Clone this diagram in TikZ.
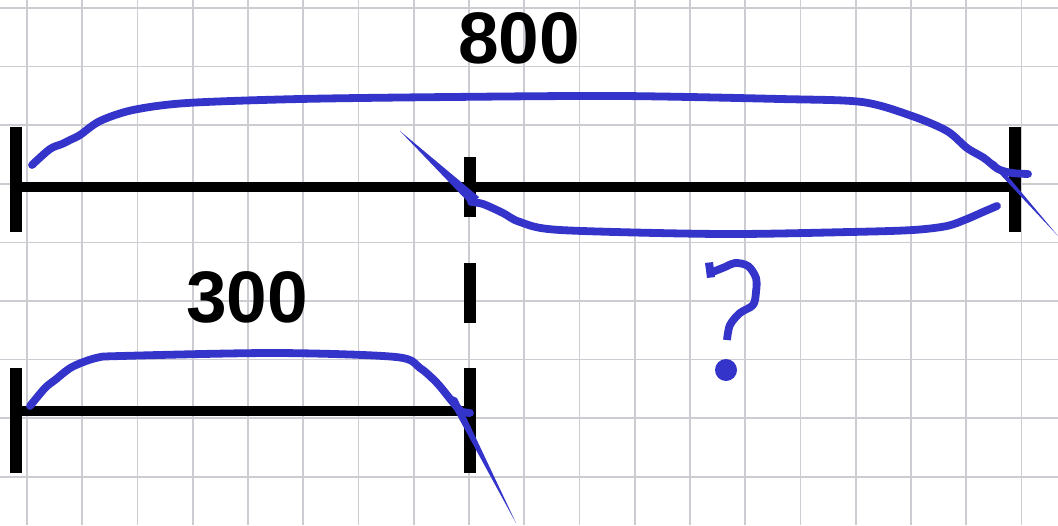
\documentclass[tikz,border=0pt]{standalone}
\usepackage{fontspec}
\setmainfont{Liberation Sans}
\definecolor{pen}{RGB}{52,52,202}
\definecolor{gridc}{RGB}{204,204,210}
\tikzset{
  gridline/.style={draw=gridc, line width=1.6pt},
  bar/.style={draw=black, line width=10.5pt},
  tick/.style={draw=black, line width=12pt},
  brace/.style={draw=pen, line width=7.8pt, line cap=round, line join=round},
  taper/.style={fill=pen},
  num/.style={font=\fontsize{73}{80}\selectfont\bfseries, inner sep=0pt, anchor=center}
}
\begin{document}
\begin{tikzpicture}[x=1pt,y=-1pt]
\useasboundingbox (0,0) rectangle (1058,525);
\fill[white] (0,0) rectangle (1058,525);
% grid
\foreach \k in {-1,...,19} { \draw[gridline] ({27+55.25*\k},0) -- ({27+55.25*\k},525); }
\foreach \k in {0,...,8} { \draw[gridline] (0,{8+58.6*\k}) -- (1058,{8+58.6*\k}); }
% top segment
\coordinate (tl) at (16,187);
\coordinate (tm) at (470,187);
\coordinate (tr) at (1015,187);
\draw[bar] (tl) -- (tr);
\draw[tick] (16,127) -- (16,232);
\draw[tick] (470,157) -- (470,217);
\draw[tick] (1015,127) -- (1015,232);
% dashed continuation
\draw[tick] (470,263) -- (470,323);
% bottom segment
\coordinate (bl) at (16,411);
\coordinate (br) at (470,411);
\draw[bar] (bl) -- (br);
\draw[tick] (16,368) -- (16,473);
\draw[tick] (470,368) -- (470,473);
% labels
\node[num] (n800) at (519,38.5) {800};
\node[num] (n300) at (247,297.5) {300};
% top brace (800)
\draw[brace] plot[smooth, tension=0.5] coordinates {(32,165) (50,149) (62,144) (70,140) (80,135) (100,121) (133,110) (187,103) (300,99) (450,97) (620,96) (780,99) (862,102) (912,116) (947,131) (967,148) (984,158) (998,169) (1012,173) (1028,174)};
\fill[taper] (983,156) -- (996,162) -- (1058,236) -- cycle;
% lower brace (?)
\fill[taper] (400,131) -- (479,197) -- (471,205) -- cycle;
\draw[brace] plot[smooth, tension=0.5] coordinates {(471,202) (483,204) (503,213) (520,222) (560,230) (720,234) (850,232) (913,230) (947,226) (967,219) (983,212) (997,206)};
% bottom brace (300)
\draw[brace] plot[smooth, tension=0.5] coordinates {(30,406) (45,388) (55,380) (72,367) (96,358) (121,356) (276,353) (396,357) (420,368) (437,383) (451,400) (461,411) (470,413)};
\fill[taper] (445,393) -- (457,398) -- (516,523) -- cycle;
% question mark
\draw[brace, line cap=butt] plot[smooth, tension=0.55] coordinates {(710,273) (725,267) (735,263) (748,266) (756,278) (756,292) (753,305) (740,313) (730,325) (727,340)};
\fill[pen] (705,263) -- (713,262) -- (715,277) -- (707,278) -- cycle;
\fill[pen] (726,370) circle (11);
\end{tikzpicture}
\end{document}
